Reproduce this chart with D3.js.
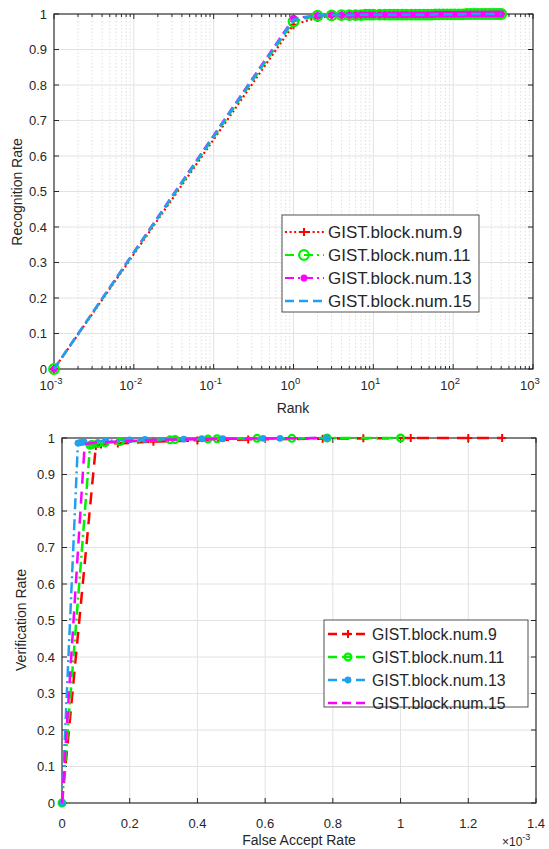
<!DOCTYPE html>
<html>
<head>
<meta charset="utf-8">
<script src="https://cdn.jsdelivr.net/npm/d3@7/dist/d3.min.js"></script>
<style>
  body { margin: 0; background: #fff; }
  text { font-family: "Liberation Sans", Arial, sans-serif; fill: #262626; }
</style>
</head>
<body>
<div id="chart"></div>
<script>
// ---------- data: top panel (CMC curve) ----------
const rankVals = [0.001, 1, 2, 3, 4, 5, 6, 7, 8, 9, 10, 12, 14, 16, 18, 20, 23, 26, 30, 34, 38, 43, 48, 54, 60,
  67, 75, 84, 94, 105, 118, 132, 148, 165, 185, 205, 230, 255, 285, 315, 345, 375, 400];
const recBlock9 = [0, 0.970, 0.990, 0.994, 0.995, 0.996, 0.997, 0.997, 0.997, 0.998, 0.998, 0.998, 0.998, 0.998, 0.998,
  0.998, 0.998, 0.998, 0.998, 0.998, 0.998, 0.998, 0.998, 0.998, 0.999, 0.999, 0.999, 0.999, 0.999, 0.999,
  0.999, 0.999, 1, 1, 1, 1, 1, 1, 1, 1, 1, 1, 1];
const recBlock11 = [0, 0.979, 0.995, 0.996, 0.997, 0.997, 0.997, 0.997, 0.998, 0.998, 0.998, 0.998, 0.998, 0.998, 0.998,
  0.998, 0.998, 0.998, 0.998, 0.998, 0.998, 0.998, 0.998, 0.998, 0.999, 0.999, 0.999, 0.999, 0.999, 0.999,
  0.999, 0.999, 1, 1, 1, 1, 1, 1, 1, 1, 1, 1, 1];
const recBlock13 = [0, 0.988, 0.996, 0.997, 0.997, 0.997, 0.997, 0.998, 0.998, 0.998, 0.998, 0.998, 0.998, 0.998, 0.998,
  0.998, 0.998, 0.998, 0.998, 0.998, 0.998, 0.998, 0.998, 0.998, 0.999, 0.999, 0.999, 0.999, 0.999, 0.999,
  0.999, 0.999, 1, 1, 1, 1, 1, 1, 1, 1, 1, 1, 1];
const recBlock15 = [0, 0.984, 0.996, 0.997, 0.997, 0.997, 0.997, 0.998, 0.998, 0.998, 0.998, 0.998, 0.998, 0.998, 0.998,
  0.998, 0.998, 0.998, 0.998, 0.998, 0.998, 0.998, 0.998, 0.998, 0.999, 0.999, 0.999, 0.999, 0.999, 0.999,
  0.999, 0.999, 1, 1, 1, 1, 1, 1, 1, 1, 1, 1, 1];

// ---------- data: bottom panel (ROC curve), FAR in units of 1e-3 ----------
const farBlock9 = [0, 0.100, 0.115, 0.165, 0.27, 0.40, 0.55, 0.77, 0.89, 1.03, 1.20, 1.30];
const verBlock9 = [0, 0.978, 0.982, 0.985, 0.990, 0.993, 0.996, 0.998, 0.999, 1, 1, 1];
const farBlock11 = [0, 0.083, 0.089, 0.106, 0.127, 0.171, 0.319, 0.334, 0.431, 0.458, 0.576, 0.679, 0.783, 1.0];
const verBlock11 = [0, 0.980, 0.982, 0.985, 0.987, 0.990, 0.995, 0.996, 0.997, 0.998, 0.999, 0.999, 1, 1];
const farBlock13 = [0, 0.047, 0.052, 0.058, 0.065, 0.13, 0.20, 0.245, 0.36, 0.413, 0.475, 0.594, 0.644, 0.783];
const verBlock13 = [0, 0.986, 0.987, 0.988, 0.989, 0.992, 0.995, 0.996, 0.997, 0.998, 0.998, 0.999, 0.999, 1];
const farBlock15 = [0, 0.067, 0.09, 0.15, 0.30, 0.50, 0.65, 0.76];
const verBlock15 = [0, 0.983, 0.986, 0.990, 0.995, 0.998, 0.999, 1];

// ---------- tick labels ----------
const rateTicks = [0, 0.1, 0.2, 0.3, 0.4, 0.5, 0.6, 0.7, 0.8, 0.9, 1];
const rateLabels = ['0', '0.1', '0.2', '0.3', '0.4', '0.5', '0.6', '0.7', '0.8', '0.9', '1'];
const rankTicks = [0.001, 0.01, 0.1, 1, 10, 100, 1000];
const rankExps = ['-3', '-2', '-1', '0', '1', '2', '3'];
const farTicks = [0, 0.2, 0.4, 0.6, 0.8, 1, 1.2, 1.4];
const farLabels = ['0', '0.2', '0.4', '0.6', '0.8', '1', '1.2', '1.4'];

const legendNames = ['GIST.block.num.9', 'GIST.block.num.11', 'GIST.block.num.13', 'GIST.block.num.15'];

const red = '#ff0000', green = '#00f000', magenta = '#ff00ff', blue = '#22a0f0';
const axisColor = '#262626';
const gridColor = '#e2e2e2';

const width = 549, height = 849;

const svg = d3.select('#chart')
  .append('svg')
  .attr('width', width)
  .attr('height', height)
  .style('background', '#fff');

// marker helper
function drawMarker(g, type, x, y, color, size) {
  if (type === 'plus') {
    g.append('path')
      .attr('d', `M${x - size},${y}H${x + size}M${x},${y - size}V${y + size}`)
      .attr('stroke', color).attr('stroke-width', 2).attr('fill', 'none');
  } else if (type === 'circle') {
    g.append('circle').attr('cx', x).attr('cy', y).attr('r', size)
      .attr('fill', 'none').attr('stroke', color).attr('stroke-width', 2.2);
  } else if (type === 'dot') {
    g.append('circle').attr('cx', x).attr('cy', y).attr('r', size).attr('fill', color);
  }
}

// box with inward ticks on all four sides
function drawFrame(g, x, y, xTicks, yTicks, minorX) {
  const [x0, x1] = x.range();
  const [y0, y1] = y.range();
  const tick = (a, b, c, d) => g.append('line').attr('x1', a).attr('y1', b).attr('x2', c).attr('y2', d)
    .attr('stroke', axisColor).attr('stroke-width', 1);
  xTicks.forEach(v => { tick(x(v), y0, x(v), y0 - 5); tick(x(v), y1, x(v), y1 + 5); });
  (minorX || []).forEach(v => { tick(x(v), y0, x(v), y0 - 3); tick(x(v), y1, x(v), y1 + 3); });
  yTicks.forEach(v => { tick(x0, y(v), x0 + 5, y(v)); tick(x1, y(v), x1 - 5, y(v)); });
  g.append('rect')
    .attr('x', x0).attr('y', y1)
    .attr('width', x1 - x0).attr('height', y0 - y1)
    .attr('fill', 'none').attr('stroke', axisColor).attr('stroke-width', 1.1);
}

// ================= TOP PANEL =================
const topX = d3.scaleLog().domain([1e-3, 1e3]).range([54, 533]);
const topY = d3.scaleLinear().domain([0, 1]).range([369, 14]);
const topG = svg.append('g');

const minorRanks = topX.ticks().filter(v => !rankTicks.some(t => Math.abs(t - v) / t < 1e-6));

// minor dotted grid
topG.selectAll('.minor')
  .data(minorRanks)
  .enter().append('line')
  .attr('x1', d => topX(d)).attr('x2', d => topX(d))
  .attr('y1', topY(0)).attr('y2', topY(1))
  .attr('stroke', '#d8d8d8').attr('stroke-width', 0.8).attr('stroke-dasharray', '1.5,2');
// major grid
topG.selectAll('.gx')
  .data(rankTicks)
  .enter().append('line')
  .attr('x1', d => topX(d)).attr('x2', d => topX(d))
  .attr('y1', topY(0)).attr('y2', topY(1))
  .attr('stroke', gridColor);
topG.selectAll('.gy')
  .data(rateTicks)
  .enter().append('line')
  .attr('x1', topX.range()[0]).attr('x2', topX.range()[1])
  .attr('y1', d => topY(d)).attr('y2', d => topY(d))
  .attr('stroke', gridColor);

drawFrame(topG, topX, topY, rankTicks, rateTicks, minorRanks);

// y tick labels
topG.selectAll('.ylab')
  .data(rateTicks)
  .enter().append('text')
  .attr('x', 47).attr('y', d => topY(d) + 4.5)
  .attr('text-anchor', 'end')
  .style('font-size', '13px')
  .text((d, i) => rateLabels[i]);

// x tick labels 10^n
const rankLab = topG.selectAll('.xlab')
  .data(rankTicks)
  .enter().append('text')
  .attr('x', d => topX(d) - 3).attr('y', 390)
  .attr('text-anchor', 'middle')
  .style('font-size', '13px');
rankLab.append('tspan').text('10');
rankLab.append('tspan').attr('dy', -6).style('font-size', '9.5px').text((d, i) => rankExps[i]);

topG.append('text')
  .attr('x', 293).attr('y', 413)
  .attr('text-anchor', 'middle')
  .style('font-size', '14px')
  .text('Rank');

topG.append('text')
  .attr('transform', 'rotate(-90)')
  .attr('x', -192).attr('y', 22)
  .attr('text-anchor', 'middle')
  .style('font-size', '14px')
  .text('Recognition Rate');

// plot dash: pattern used on the curve, legDash: pattern shown in the legend
const topLine = d3.line().x(d => topX(d[0])).y(d => topY(d[1]));
const topSeries = [
  { vals: recBlock9, color: red, dash: '2,2.6', legDash: '2,2.6', w: 2.2, marker: 'plus', size: 4.5 },
  { vals: recBlock11, color: green, dash: '9,5', legDash: '9,4,2,4', w: 2.2, marker: 'circle', size: 4.8 },
  { vals: recBlock13, color: magenta, dash: '9,5', legDash: '9,4,2,4', w: 2.2, marker: 'dot', size: 3.5 },
  { vals: recBlock15, color: blue, dash: '9,5', legDash: '9,5', w: 2.6, marker: null, size: 0 }
];
topSeries.forEach(s => {
  const pts = rankVals.map((r, i) => [r, s.vals[i]]);
  topG.append('path')
    .datum(pts)
    .attr('fill', 'none')
    .attr('stroke', s.color)
    .attr('stroke-width', s.w)
    .attr('stroke-dasharray', s.dash)
    .attr('d', topLine);
  if (s.marker) pts.forEach(p => drawMarker(topG, s.marker, topX(p[0]), topY(p[1]), s.color, s.size));
});

// top legend
const topLeg = svg.append('g');
topLeg.append('rect')
  .attr('x', 282).attr('y', 215).attr('width', 197).attr('height', 97)
  .attr('fill', '#fff').attr('stroke', axisColor).attr('stroke-width', 0.8);
topSeries.forEach((s, i) => {
  const ly = 232 + i * 23;
  topLeg.append('line')
    .attr('x1', 285).attr('x2', 324).attr('y1', ly).attr('y2', ly)
    .attr('stroke', s.color).attr('stroke-width', s.w).attr('stroke-dasharray', s.legDash);
  if (s.marker) drawMarker(topLeg, s.marker, 304, ly, s.color, s.marker === 'plus' ? 4 : s.size);
  topLeg.append('text')
    .attr('x', 328).attr('y', ly + 6)
    .style('font-size', '17px')
    .text(legendNames[i]);
});

// ================= BOTTOM PANEL =================
const botX = d3.scaleLinear().domain([0, 1.4]).range([62, 536]);
const botY = d3.scaleLinear().domain([0, 1]).range([803, 438]);
const botG = svg.append('g');

botG.selectAll('.gx')
  .data(farTicks)
  .enter().append('line')
  .attr('x1', d => botX(d)).attr('x2', d => botX(d))
  .attr('y1', botY(0)).attr('y2', botY(1))
  .attr('stroke', gridColor);
botG.selectAll('.gy')
  .data(rateTicks)
  .enter().append('line')
  .attr('x1', botX.range()[0]).attr('x2', botX.range()[1])
  .attr('y1', d => botY(d)).attr('y2', d => botY(d))
  .attr('stroke', gridColor);

drawFrame(botG, botX, botY, farTicks, rateTicks);

botG.selectAll('.ylab')
  .data(rateTicks)
  .enter().append('text')
  .attr('x', 55).attr('y', d => botY(d) + 4.5)
  .attr('text-anchor', 'end')
  .style('font-size', '13px')
  .text((d, i) => rateLabels[i]);

botG.selectAll('.xlab')
  .data(farTicks)
  .enter().append('text')
  .attr('x', d => botX(d)).attr('y', 828)
  .attr('text-anchor', 'middle')
  .style('font-size', '13px')
  .text((d, i) => farLabels[i]);

botG.append('text')
  .attr('x', 299).attr('y', 845)
  .attr('text-anchor', 'middle')
  .style('font-size', '14px')
  .text('False Accept Rate');

const expLab = botG.append('text')
  .attr('x', 502).attr('y', 846)
  .style('font-size', '12px');
expLab.append('tspan').text('×10');
expLab.append('tspan').attr('dy', -6).style('font-size', '9px').text('-3');

botG.append('text')
  .attr('transform', 'rotate(-90)')
  .attr('x', -620).attr('y', 26)
  .attr('text-anchor', 'middle')
  .style('font-size', '14px')
  .text('Verification Rate');

const botLine = d3.line().x(d => botX(d[0])).y(d => botY(d[1]));
const botSeries = [
  { far: farBlock9, ver: verBlock9, color: red, dash: '12,8', w: 2.5, marker: 'plus', size: 4 },
  { far: farBlock11, ver: verBlock11, color: green, dash: '11,4,2,4', w: 2.5, marker: 'circle', size: 3.4 },
  { far: farBlock13, ver: verBlock13, color: blue, dash: '11,4,2,4', w: 2.5, marker: 'dot', size: 3.4 },
  { far: farBlock15, ver: verBlock15, color: magenta, dash: '12,8', w: 2.5, marker: null, size: 0 }
];
botSeries.forEach(s => {
  const pts = s.far.map((f, i) => [f, s.ver[i]]);
  botG.append('path')
    .datum(pts)
    .attr('fill', 'none')
    .attr('stroke', s.color)
    .attr('stroke-width', s.w)
    .attr('stroke-dasharray', s.dash)
    .attr('d', botLine);
  if (s.marker) pts.forEach(p => drawMarker(botG, s.marker, botX(p[0]), botY(p[1]), s.color, s.size));
});

// bottom legend
const botLeg = svg.append('g');
botLeg.append('rect')
  .attr('x', 324).attr('y', 620).attr('width', 204).attr('height', 87)
  .attr('fill', '#fff').attr('stroke', axisColor).attr('stroke-width', 0.8);
botSeries.forEach((s, i) => {
  const ly = 634 + i * 23;
  botLeg.append('line')
    .attr('x1', 328).attr('x2', 366).attr('y1', ly).attr('y2', ly)
    .attr('stroke', s.color).attr('stroke-width', s.w).attr('stroke-dasharray', '9,5');
  if (s.marker) drawMarker(botLeg, s.marker, 348, ly, s.color, s.size);
  botLeg.append('text')
    .attr('x', 372).attr('y', ly + 5.5)
    .style('font-size', '15.8px')
    .text(legendNames[i]);
});
</script>
</body>
</html>
